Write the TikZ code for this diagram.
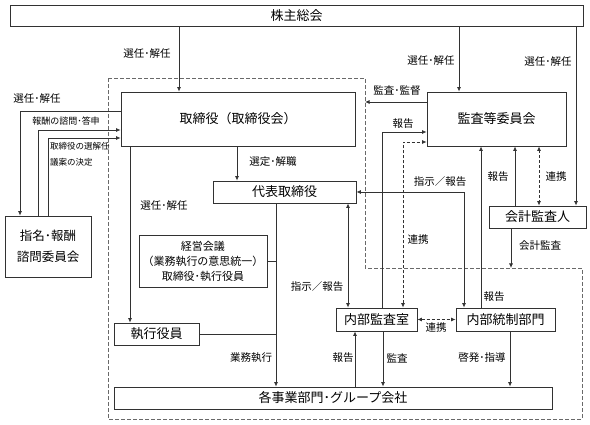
\documentclass[tikz,border=0pt]{standalone}
\usepackage{fontspec}
\setmainfont{Noto Sans CJK JP}
\usepackage{tikz}
\usetikzlibrary{arrows.meta}
\definecolor{lineGray}{RGB}{50,50,50}
\definecolor{regionGray}{RGB}{105,105,105}

\begin{document}
\begin{tikzpicture}[
    x=1pt, y=-1pt,
    box/.style={rectangle, draw=lineGray, fill=white, line width=0.8pt, inner sep=0pt, font=\fontsize{13}{15}\selectfont},
    lbl/.style={inner sep=0pt, font=\fontsize{10.5}{12}\selectfont},
    note/.style={inner sep=0pt, font=\fontsize{8.5}{16}\selectfont},
    line/.style={draw=lineGray, line width=0.8pt},
    arrow/.style={line, -{Latex[length=4.5pt,width=4pt]}},
    both/.style={line, {Latex[length=4.5pt,width=4pt]}-{Latex[length=4.5pt,width=4pt]}},
    link/.style={both, dash pattern=on 3pt off 2pt},
    region/.style={draw=regionGray, line width=0.8pt, dash pattern=on 4pt off 2pt}
]
    \useasboundingbox (0,0) rectangle (590,425);

    % Dashed region
    \coordinate (rnw) at (108,78);
    \coordinate (rne) at (365,78);
    \coordinate (rmid) at (365,268);
    \coordinate (rme) at (582,268);
    \coordinate (rse) at (582,419);
    \coordinate (rsw) at (108,419);
    \draw[region] (rnw) -- (rne) -- (rmid) -- (rme) -- (rse) -- (rsw) -- cycle;

    % Boxes
    \node[box, minimum width=573, minimum height=21] (kabu) at (296.5,15.5) {株主総会};
    \node[box, minimum width=234, minimum height=54] (tori) at (238,119) {取締役（取締役会）};
    \node[box, minimum width=139, minimum height=54] (kansa) at (496.5,119) {監査等委員会};
    \node[box, minimum width=143, minimum height=22] (daihyo) at (284.5,192) {代表取締役};
    \node[box, minimum width=97, minimum height=22] (kaikei) at (537.5,217) {会計監査人};
    \node[box, minimum width=86, minimum height=61, align=center,
          font=\fontsize{12.5}{21}\selectfont] (shimei) at (48,246.5) {指名･報酬\\諮問委員会};
    \node[box, minimum width=128, minimum height=52, align=center,
          font=\fontsize{11}{15}\selectfont] (keiei) at (203,261) {経営会議\\（業務執行の意思統一）\\取締役･執行役員};
    \node[box, minimum width=85, minimum height=22] (shikko) at (156.5,334) {執行役員};
    \node[box, minimum width=81, minimum height=23] (naibu) at (376.5,319.5) {内部監査室};
    \node[box, minimum width=99, minimum height=23] (tosei) at (505.5,319.5) {内部統制部門};
    \node[box, minimum width=438, minimum height=22] (jigyo) at (333,398) {各事業部門･グループ会社};

    % Shareholders
    \draw[arrow] (kabu.south -| 179,0) -- (tori.north -| 179,0);
    \draw[arrow] (kabu.south -| 459,0) -- (kansa.north -| 459,0);
    \draw[arrow] (kabu.south -| 576,0) -- (kaikei.north -| 576,0);
    \node[lbl] (l_sen1) at (147,54) {選任･解任};
    \node[lbl] (l_sen2) at (431,61) {選任･解任};
    \node[lbl] (l_sen3) at (548,62) {選任･解任};

    % Advisory committee
    \draw[arrow] (tori.west |- 0,111) -| (shimei.north -| 20,0);
    \draw[arrow] (shimei.north -| 38,0) |- (tori.west |- 0,130);
    \draw[arrow] (shimei.north) |- (tori.west |- 0,138);
    \node[lbl] (l_sen4) at (37,99) {選任･解任};
    \node[note, font=\fontsize{9}{11}\selectfont] (l_hoshu) at (66,121) {報酬の諮問･答申};
    \node[note, anchor=west, align=left] (l_gian) at (50,154) {取締役の選解任\\議案の決定};

    % Board and executives
    \draw[arrow] (tori.south -| 237,0) -- (daihyo.north -| 237,0);
    \node[lbl] (l_sentei) at (273,162) {選定･解職};
    \draw[arrow] (tori.south -| 130,0) -- (shikko.north -| 130,0);
    \node[lbl] (l_sen5) at (164,206) {選任･解任};
    \draw[arrow] (daihyo.south -| 276,0) -- (jigyo.north -| 276,0);
    \draw[line] (keiei.east) -- (keiei.east -| 276,0);
    \draw[line] (shikko.east) -- (shikko.east -| 276,0);
    \node[lbl] (l_gyomu) at (251,358) {業務執行};

    % Audit committee
    \draw[arrow] (kansa.west |- 0,102) -- (rne |- 0,102);
    \node[lbl] (l_kansa) at (397,91) {監査･監督};
    \draw[arrow] (naibu.north -| 382,0) |- (kansa.west |- 0,132);
    \node[lbl] (l_hok1) at (403,124) {報告};
    \draw[link] (naibu.north -| 403,0) |- (kansa.west |- 0,142);
    \node[lbl] (l_ren1) at (418,240) {連携};
    \draw[arrow] (tosei.north -| 481,0) -- (kansa.south -| 481,0);
    \node[lbl] (l_hok2) at (494,297) {報告};

    % Accounting auditor
    \draw[arrow] (kaikei.north -| 515,0) -- (kansa.south -| 515,0);
    \node[lbl] (l_hok3) at (498,177) {報告};
    \draw[link] (kansa.south -| 539,0) -- (kaikei.north -| 539,0);
    \node[lbl] (l_ren2) at (556,177) {連携};
    \draw[arrow] (kaikei.south -| 511,0) -- (rmid -| 511,0);
    \node[lbl] (l_kaikei) at (540,246) {会計監査};

    % Internal audit and control
    \draw[both] (daihyo.east) -| (tosei.north -| 464,0);
    \node[lbl] (l_shiji1) at (440,182) {指示／報告};
    \draw[both] (daihyo.south -| 348,0) -- (naibu.north -| 348,0);
    \node[lbl] (l_shiji2) at (317,287) {指示／報告};
    \draw[link] (naibu.east) -- (tosei.west);
    \node[lbl] (l_ren3) at (436,328) {連携};

    % Business units
    \draw[arrow] (jigyo.north -| 355,0) -- (naibu.south -| 355,0);
    \node[lbl] (l_hok4) at (343,358) {報告};
    \draw[arrow] (naibu.south -| 383,0) -- (jigyo.north -| 383,0);
    \node[lbl] (l_audit) at (397,358) {監査};
    \draw[arrow] (tosei.south -| 510,0) -- (jigyo.north -| 510,0);
    \node[lbl] (l_keihatsu) at (482,358) {啓発･指導};
\end{tikzpicture}
\end{document}
